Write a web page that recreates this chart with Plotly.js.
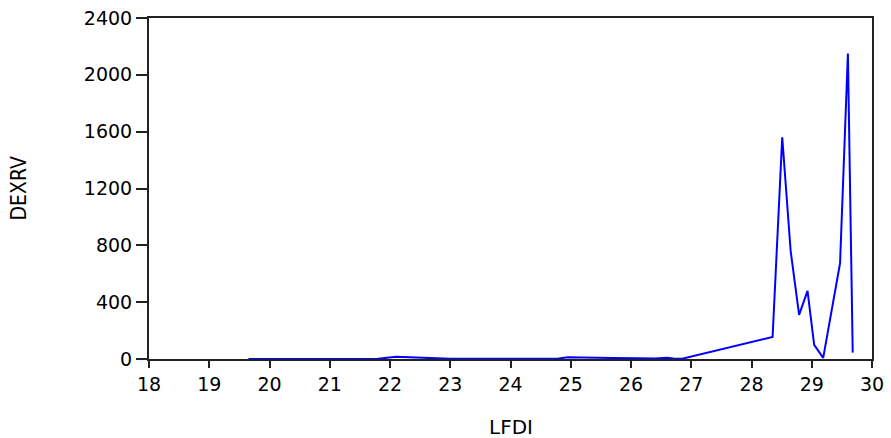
<!DOCTYPE html>
<html>
<head>
<meta charset="utf-8">
<script src="https://cdn.plot.ly/plotly-3.0.1.min.js"></script>
<style>
html,body{margin:0;padding:0;background:#fff;}
#chart{width:891px;height:438px;}
</style>
</head>
<body>
<div id="chart"></div>
<script>
const lfdi = [19.65, 20.0, 20.4, 20.8, 21.1, 21.25, 21.4, 21.8, 22.1, 22.5, 23.0, 23.5, 24.0, 24.4, 24.8, 24.95, 25.3, 25.7, 26.1, 26.4, 26.6, 26.7, 26.85, 28.35, 28.51, 28.65, 28.79, 28.93, 29.04, 29.19, 29.47, 29.6, 29.68];
const dexrv = [0.5, 0.8, 0.6, 1, 1.5, 5, 1, 2, 15, 8, 2, 1.5, 2, 2, 3, 12, 8, 7, 6, 3, 8, 3, 2, 155, 1560, 760, 310, 480, 100, 8, 675, 2150, 45];
const xTicks = [18, 19, 20, 21, 22, 23, 24, 25, 26, 27, 28, 29, 30];
const yTicks = [0, 400, 800, 1200, 1600, 2000, 2400];
const xTitle = 'LFDI';
const yTitle = 'DEXRV';

const tickFont = {size: 19, family: 'DejaVu Sans, sans-serif', color: '#000'};
const trace = {
  x: lfdi, y: dexrv, type: 'scatter', mode: 'lines',
  line: {color: '#0000FF', width: 2}, hoverinfo: 'none'
};
const layout = {
  width: 891, height: 438,
  margin: {l: 149, r: 19, t: 18, b: 79},
  paper_bgcolor: '#fff', plot_bgcolor: '#fff',
  showlegend: false,
  font: {family: 'DejaVu Sans, sans-serif', color: '#000'},
  xaxis: {
    range: [18, 30], tickvals: xTicks, ticktext: xTicks.map(String),
    showgrid: false, zeroline: false, showline: true, mirror: true,
    linecolor: '#222', linewidth: 2, ticks: 'outside', ticklen: 7, tickwidth: 2, tickcolor: '#222',
    tickfont: tickFont
  },
  yaxis: {
    range: [0, 2400], tickvals: yTicks, ticktext: yTicks.map(String),
    showgrid: false, zeroline: false, showline: true, mirror: true,
    linecolor: '#222', linewidth: 2, ticks: 'outside', ticklen: 11, tickwidth: 2, tickcolor: '#222',
    tickfont: tickFont
  },
  annotations: [
    {text: xTitle, xref: 'paper', yref: 'paper', x: 0.5, y: 0, xanchor: 'center', yanchor: 'middle',
     yshift: -68, showarrow: false, font: {size: 20, family: 'DejaVu Sans, sans-serif', color: '#000'}},
    {text: yTitle, xref: 'paper', yref: 'paper', x: 0, y: 0.5, xanchor: 'center', yanchor: 'middle',
     xshift: -131, textangle: -90, showarrow: false, font: {size: 21, family: 'DejaVu Sans Condensed, sans-serif', color: '#000'}}
  ]
};
Plotly.newPlot('chart', [trace], layout, {displayModeBar: false, staticPlot: true});
</script>
</body>
</html>
